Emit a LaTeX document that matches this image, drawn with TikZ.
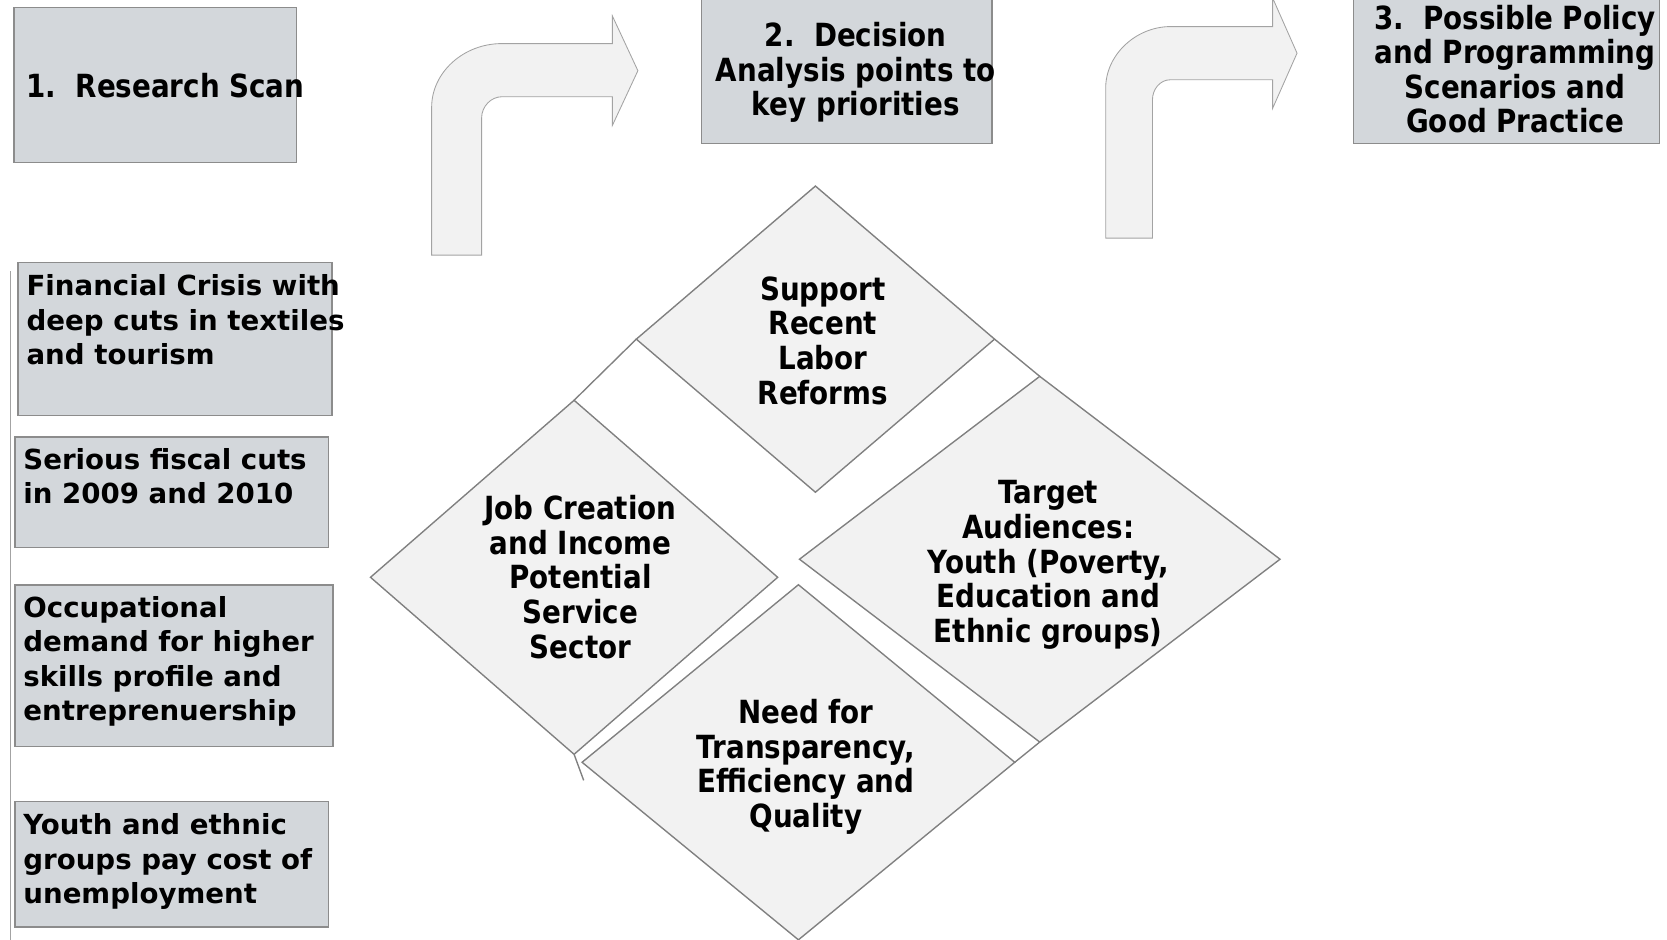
\documentclass[tikz,border=0pt]{standalone}
\usepackage{fontspec}
\setmainfont{DejaVu Sans}
\newfontfamily\wide{DejaVu Sans}
\newfontfamily\narrow[FakeStretch=0.87]{DejaVu Sans}
\usetikzlibrary{shapes.geometric}
\definecolor{boxfill}{RGB}{211,215,219}
\definecolor{boxline}{RGB}{140,140,140}
\definecolor{lightfill}{RGB}{242,242,242}
\definecolor{dialine}{RGB}{128,128,128}
\begin{document}
\begin{tikzpicture}[x=1pt,y=-1pt,
  every node/.style={inner sep=0pt,outer sep=0pt},
  scanbox/.style={draw=boxline,fill=boxfill,line width=1.5pt,rectangle},
  wtext/.style={font=\wide\fontsize{26}{32.5}\selectfont\bfseries,align=left,anchor=base west},
  ntext/.style={font=\narrow\fontsize{30}{32.5}\selectfont\bfseries,align=center,anchor=base},
  dia/.style={draw=dialine,fill=lightfill,line width=1.3pt,diamond},
  bentarrow/.style={draw=boxline!80,fill=lightfill,line width=0.8pt}]
 \useasboundingbox (0,0) rectangle (1568,884);
 % top row (text nodes sit on their last baseline)
 \node [scanbox,minimum width=266pt,minimum height=146pt] (scan) at (146,80) {};
 \node [ntext,anchor=base west] (scan-t) at (25,92) {1.\ \ Research Scan};
 \node [scanbox,minimum width=273pt,minimum height=145pt] (decide) at (796.5,62.5) {};
 \node [ntext] (decide-t) at (805,109) {2.\ \ Decision\\Analysis points to\\key priorities};
 \node [scanbox,minimum width=288pt,minimum height=145pt] (policy) at (1417,62.5) {};
 \node [ntext] (policy-t) at (1425,125) {3.\ \ Possible Policy\\and Programming\\Scenarios and\\Good Practice};
 % bent arrows
 \path [bentarrow] (406,240) -- (406,101) .. controls (406,68) and (436,41) .. (472,41)
  -- (576,41) -- (576,15) -- (600,66.5) -- (576,118) -- (576,91) -- (472,91)
  .. controls (462,91) and (453,100) .. (453,111) -- (453,240) -- cycle;
 \path [bentarrow] (1040,224) -- (1040,83) .. controls (1040,51) and (1069,25) .. (1101,25)
  -- (1197,25) -- (1197,-2) -- (1220,50) -- (1197,102) -- (1197,75) -- (1101,75)
  .. controls (1091,75) and (1084,84) .. (1084,94) -- (1084,224) -- cycle;
 % research scan column
 \draw [boxline!80,line width=1.5pt] (10,255) -- (10,884);
 \node [scanbox,minimum width=295pt,minimum height=144pt] (crisis) at (164.5,319) {};
 \node [wtext] (crisis-t) at (25,343) {Financial Crisis with\\deep cuts in textiles\\and tourism};
 \node [scanbox,minimum width=295pt,minimum height=104pt] (fiscal) at (161.5,463) {};
 \node [wtext] (fiscal-t) at (22,474) {Serious fiscal cuts\\in 2009 and 2010};
 \node [scanbox,minimum width=299pt,minimum height=152pt] (demand) at (163.5,626) {};
 \node [wtext] (demand-t) at (22,678) {Occupational\\demand for higher\\skills profile and\\entreprenuership};
 \node [scanbox,minimum width=295pt,minimum height=118pt] (youth) at (161.5,813) {};
 \node [wtext] (youth-t) at (22,850) {Youth and ethnic\\groups pay cost of\\unemployment};
 % priorities
 \node [dia,minimum width=337pt,minimum height=288pt] (labor) at (767,319) {};
 \node [ntext] (labor-t) at (774,380) {Support\\Recent\\Labor\\Reforms};
 \node [dia,minimum width=383pt,minimum height=333pt] (jobs) at (540,543) {};
 \node [ntext] (jobs-t) at (546,619) {Job Creation\\and Income\\Potential\\Service\\Sector};
 \node [dia,minimum width=452pt,minimum height=344pt] (target) at (978,526) {};
 \node [ntext] (target-t) at (986,604) {Target\\Audiences:\\Youth (Poverty,\\Education and\\Ethnic groups)};
 \node [dia,minimum width=407pt,minimum height=334pt] (need) at (751,717) {};
 \node [ntext] (need-t) at (758,778) {Need for\\Transparency,\\Efficiency and\\Quality};
 \coordinate (tail) at (549,734);
 \draw [dialine,line width=1.3pt] (labor.west) -- (jobs.north);
 \draw [dialine,line width=1.3pt] (labor.east) -- (target.north);
 \draw [dialine,line width=1.3pt] (target.south) -- (need.east);
 \draw [dialine,line width=1.3pt] (jobs.south) -- (tail);
\end{tikzpicture}
\end{document}
